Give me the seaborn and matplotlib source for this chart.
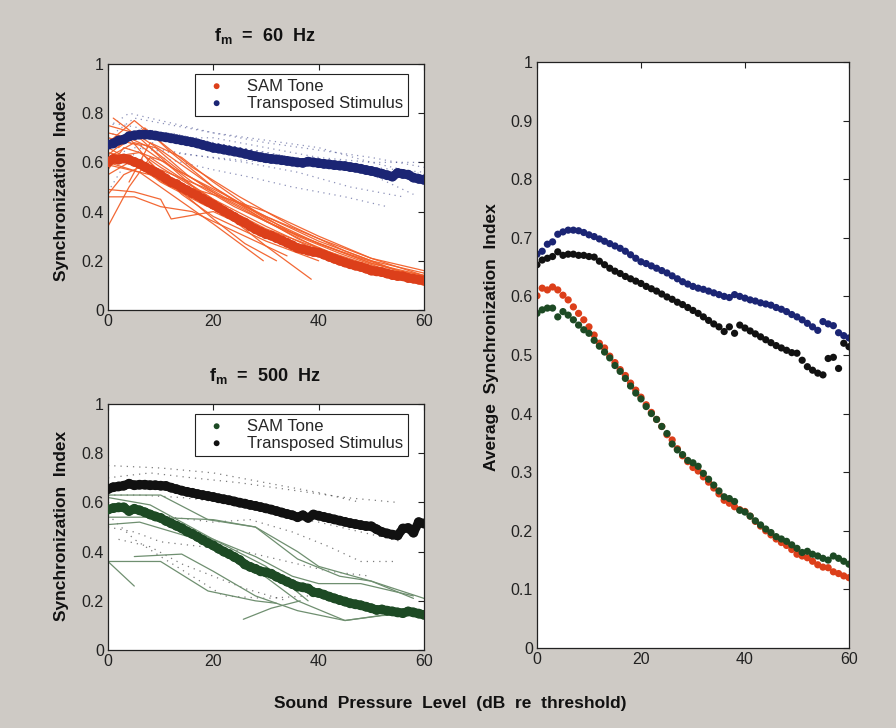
import numpy as np
import pandas as pd
import matplotlib
matplotlib.use("Agg")
import matplotlib.pyplot as plt
import seaborn as sns

# ---------------- data ----------------
spl = list(range(0, 61))

sam60_mean = [0.601, 0.614, 0.611, 0.616, 0.611, 0.602, 0.594, 0.582, 0.571, 0.560,
              0.548, 0.534, 0.520, 0.512, 0.498, 0.487, 0.475, 0.465, 0.452, 0.440,
              0.428, 0.415, 0.402, 0.390, 0.378, 0.364, 0.355, 0.340, 0.328, 0.318,
              0.308, 0.302, 0.292, 0.283, 0.273, 0.263, 0.252, 0.247, 0.241, 0.236,
              0.233, 0.225, 0.216, 0.208, 0.200, 0.193, 0.186, 0.180, 0.175, 0.168,
              0.160, 0.157, 0.154, 0.148, 0.142, 0.138, 0.137, 0.130, 0.127, 0.123,
              0.120]
trans60_mean = [0.672, 0.677, 0.689, 0.693, 0.706, 0.710, 0.713, 0.713, 0.712, 0.709,
                0.705, 0.702, 0.698, 0.694, 0.690, 0.686, 0.682, 0.677, 0.671, 0.665,
                0.659, 0.656, 0.652, 0.648, 0.644, 0.640, 0.635, 0.630, 0.625, 0.621,
                0.617, 0.614, 0.612, 0.609, 0.606, 0.603, 0.600, 0.598, 0.603, 0.600,
                0.597, 0.594, 0.592, 0.589, 0.587, 0.585, 0.581, 0.578, 0.574, 0.569,
                0.565, 0.560, 0.554, 0.548, 0.542, 0.557, 0.553, 0.550, 0.538, 0.533,
                0.529]
sam500_mean = [0.571, 0.577, 0.580, 0.580, 0.565, 0.574, 0.568, 0.560, 0.551, 0.543,
               0.537, 0.525, 0.515, 0.505, 0.495, 0.482, 0.472, 0.460, 0.447, 0.435,
               0.425, 0.412, 0.400, 0.390, 0.378, 0.366, 0.348, 0.338, 0.330, 0.320,
               0.316, 0.310, 0.298, 0.288, 0.278, 0.268, 0.258, 0.255, 0.250, 0.235,
               0.232, 0.225, 0.217, 0.210, 0.203, 0.197, 0.190, 0.186, 0.182, 0.176,
               0.170, 0.163, 0.165, 0.160, 0.157, 0.153, 0.150, 0.157, 0.153, 0.148,
               0.143]
trans500_mean = [0.654, 0.662, 0.665, 0.668, 0.676, 0.670, 0.672, 0.672, 0.670, 0.670,
                 0.668, 0.667, 0.660, 0.654, 0.648, 0.643, 0.639, 0.634, 0.630, 0.626,
                 0.622, 0.617, 0.613, 0.609, 0.604, 0.599, 0.595, 0.590, 0.586, 0.581,
                 0.576, 0.571, 0.565, 0.559, 0.553, 0.548, 0.540, 0.548, 0.537, 0.551,
                 0.546, 0.541, 0.536, 0.531, 0.526, 0.521, 0.516, 0.512, 0.508, 0.504,
                 0.503, 0.491, 0.480, 0.474, 0.469, 0.466, 0.494, 0.496, 0.477, 0.520,
                 0.514]

# individual fibres, fm = 60 Hz, SAM tone (x, y)
sam60_units = [
    ([0, 4, 8, 15, 25, 35, 45, 60], [0.34, 0.50, 0.62, 0.52, 0.38, 0.27, 0.19, 0.11]),
    ([0, 5, 10, 20, 30, 40, 50, 60], [0.75, 0.72, 0.65, 0.50, 0.37, 0.27, 0.19, 0.13]),
    ([1, 6, 12, 20, 30, 38.6], [0.78, 0.70, 0.58, 0.43, 0.26, 0.125]),
    ([0, 6, 12, 20, 29.5], [0.60, 0.56, 0.47, 0.35, 0.20]),
    ([0, 5, 10, 12, 20, 30, 40, 50, 60], [0.49, 0.48, 0.45, 0.37, 0.40, 0.30, 0.22, 0.16, 0.11]),
    ([0, 4, 8, 14, 22, 30, 40, 50, 60], [0.72, 0.70, 0.66, 0.56, 0.46, 0.38, 0.28, 0.20, 0.15]),
    ([0, 3, 6, 10, 20, 30, 40, 50, 60], [0.57, 0.66, 0.64, 0.58, 0.45, 0.34, 0.24, 0.17, 0.12]),
    ([0, 3, 8, 14, 20, 30, 40], [0.47, 0.55, 0.60, 0.47, 0.38, 0.28, 0.20]),
    ([0, 5, 9, 16, 25, 35, 45, 60], [0.68, 0.77, 0.70, 0.58, 0.46, 0.34, 0.24, 0.12]),
    ([0, 6, 11, 16, 24, 34, 44, 55, 60], [0.62, 0.64, 0.60, 0.52, 0.42, 0.32, 0.24, 0.16, 0.14]),
    ([2, 7, 12, 20, 30, 40, 50, 60], [0.66, 0.74, 0.64, 0.50, 0.36, 0.25, 0.18, 0.12]),
    ([0, 4, 10, 18, 27, 36, 45, 55, 60], [0.64, 0.62, 0.57, 0.50, 0.40, 0.29, 0.21, 0.14, 0.12]),
    ([0, 5, 10, 18, 28, 38, 48, 58, 60], [0.66, 0.60, 0.52, 0.43, 0.33, 0.25, 0.18, 0.13, 0.12]),
    ([0, 8, 15, 23, 30, 40, 50, 60], [0.59, 0.55, 0.50, 0.45, 0.40, 0.30, 0.21, 0.14]),
    ([4, 8, 14, 20, 28, 36, 44, 52, 60], [0.52, 0.68, 0.62, 0.52, 0.40, 0.30, 0.23, 0.17, 0.13]),
    ([0, 4, 8, 14, 20, 26, 32], [0.63, 0.70, 0.60, 0.48, 0.37, 0.27, 0.20]),
    ([0, 6, 12, 22, 30, 40, 50, 60], [0.70, 0.67, 0.58, 0.47, 0.38, 0.29, 0.21, 0.16]),
    ([0, 4, 8, 12, 20, 30, 40, 50, 60], [0.55, 0.60, 0.55, 0.50, 0.44, 0.33, 0.25, 0.17, 0.10]),
    ([0, 5, 10, 16, 24, 34], [0.46, 0.46, 0.42, 0.40, 0.32, 0.22]),
    ([0, 5, 9, 15, 22, 30, 40, 50, 60], [0.62, 0.68, 0.66, 0.55, 0.45, 0.36, 0.27, 0.19, 0.14]),
]
# individual fibres, fm = 60 Hz, transposed stimulus
trans60_units = [
    ([0, 5, 10, 20, 30, 40, 50, 60], [0.70, 0.78, 0.76, 0.72, 0.68, 0.65, 0.62, 0.58]),
    ([0, 4, 10, 20, 30, 40, 50, 60], [0.74, 0.80, 0.77, 0.72, 0.69, 0.66, 0.60, 0.55]),
    ([0, 6, 12, 20, 30, 40, 50, 58], [0.66, 0.70, 0.72, 0.68, 0.64, 0.60, 0.55, 0.47]),
    ([0, 5, 12, 20, 30, 40, 50, 60], [0.62, 0.66, 0.64, 0.62, 0.60, 0.60, 0.58, 0.56]),
    ([0, 4, 10, 20, 30, 40, 50, 60], [0.48, 0.62, 0.70, 0.70, 0.66, 0.62, 0.60, 0.60]),
    ([1, 6, 15, 25, 35, 45, 55, 60], [0.76, 0.74, 0.70, 0.66, 0.62, 0.58, 0.54, 0.53]),
    ([0, 8, 16, 26, 36, 46, 56], [0.70, 0.66, 0.63, 0.60, 0.56, 0.50, 0.46]),
    ([0, 10, 20, 27, 35, 45, 53], [0.60, 0.62, 0.57, 0.54, 0.50, 0.46, 0.42]),
]
# individual fibres, fm = 500 Hz, SAM tone
sam500_units = [
    ([0, 10, 19, 28, 36, 40, 50, 60], [0.63, 0.63, 0.53, 0.50, 0.40, 0.34, 0.28, 0.21]),
    ([0, 8, 14, 20, 28, 35, 40, 48, 58], [0.62, 0.59, 0.52, 0.45, 0.38, 0.30, 0.27, 0.27, 0.22]),
    ([0, 8, 20, 28, 36, 44, 50, 58], [0.54, 0.54, 0.53, 0.50, 0.37, 0.30, 0.28, 0.21]),
    ([0, 6, 17, 26, 36, 45, 52, 60], [0.51, 0.52, 0.45, 0.36, 0.20, 0.12, 0.14, 0.15]),
    ([5, 14, 20, 28, 36, 45, 55, 60], [0.38, 0.39, 0.32, 0.22, 0.16, 0.12, 0.15, 0.15]),
    ([0, 10, 19, 28, 32], [0.36, 0.36, 0.24, 0.20, 0.19]),
    ([0, 5], [0.36, 0.26]),
    ([25.7, 31, 36.5], [0.125, 0.17, 0.20]),
    ([0, 6, 12, 20, 30, 38], [0.58, 0.58, 0.52, 0.45, 0.34, 0.20]),
]
# individual fibres, fm = 500 Hz, transposed stimulus
trans500_units = [
    ([0, 10, 20, 30, 40, 48], [0.75, 0.74, 0.72, 0.68, 0.64, 0.60]),
    ([0, 8, 16, 25, 35, 45, 55], [0.70, 0.72, 0.70, 0.68, 0.65, 0.62, 0.60]),
    ([0, 6, 14, 22, 30, 40, 50, 56], [0.63, 0.63, 0.62, 0.60, 0.56, 0.52, 0.47, 0.44]),
    ([0, 5, 12, 20, 27, 35, 42, 48, 55], [0.60, 0.58, 0.54, 0.52, 0.53, 0.48, 0.42, 0.36, 0.36]),
    ([0, 5, 10, 18, 26, 34, 42, 50], [0.50, 0.48, 0.44, 0.42, 0.40, 0.36, 0.32, 0.30]),
    ([0, 5, 10, 16, 22, 30, 38], [0.55, 0.45, 0.38, 0.30, 0.22, 0.21, 0.22]),
    ([2, 8, 14, 20, 26, 34], [0.45, 0.42, 0.35, 0.30, 0.25, 0.20]),
]

legend_labels = ["SAM Tone", "Transposed Stimulus"]
xticks = [0, 20, 40, 60]

# ---------------- style ----------------
BG = "#cecac5"
RED_DOT = "#dc3f1a"
RED_LINE = "#f2602a"
BLUE = "#1b2574"
GREEN_DOT = "#1d4a24"
GREEN_LINE = "#6f8f70"
BLACK = "#111111"

sns.set_theme(style="white")
plt.rcParams["font.family"] = ["Liberation Sans", "DejaVu Sans"]
plt.rcParams["mathtext.fontset"] = "custom"
plt.rcParams["mathtext.rm"] = "Liberation Sans"
plt.rcParams["mathtext.bf"] = "Liberation Sans:bold"
plt.rcParams["axes.edgecolor"] = "#222222"
plt.rcParams["axes.linewidth"] = 0.9


def units_frame(units):
    rows = []
    for i, (xs, ys) in enumerate(units):
        for x, y in zip(xs, ys):
            rows.append({"unit": i, "x": x, "y": y})
    return pd.DataFrame(rows)


def style_axes(ax, yticks, ylabels):
    ax.set_facecolor("white")
    ax.set_xlim(0, 60)
    ax.set_ylim(0, 1)
    ax.set_xticks(xticks)
    ax.set_xticklabels([str(t) for t in xticks])
    ax.set_yticks(yticks)
    ax.set_yticklabels(ylabels)
    ax.tick_params(direction="in", top=True, right=True, length=4, width=0.8,
                   labelsize=11.5, colors="#222222", pad=3)
    ax.set_xlabel("")
    ax.set_ylabel("")
    for s in ax.spines.values():
        s.set_visible(True)


def mean_band(ax, y, color):
    # thick overlapping dots in the single-condition panels
    sns.lineplot(x=spl, y=y, ax=ax, color=color, lw=6.5, legend=False,
                 solid_capstyle="round", zorder=4)


fig = plt.figure(figsize=(8.96, 7.28), dpi=100)
fig.patch.set_facecolor(BG)

ax1 = fig.add_axes([0.1205, 0.5742, 0.3527, 0.3379])
ax2 = fig.add_axes([0.1205, 0.1071, 0.3527, 0.3379])
ax3 = fig.add_axes([0.5993, 0.1099, 0.3482, 0.8050])

left_ticks = [0, 0.2, 0.4, 0.6, 0.8, 1]
left_labels = ["0", "0.2", "0.4", "0.6", "0.8", "1"]
right_ticks = [0, 0.1, 0.2, 0.3, 0.4, 0.5, 0.6, 0.7, 0.8, 0.9, 1]
right_labels = ["0", "0.1", "0.2", "0.3", "0.4", "0.5", "0.6", "0.7", "0.8", "0.9", "1"]

# ---- top-left: fm = 60 Hz ----
df = units_frame(trans60_units)
sns.lineplot(data=df, x="x", y="y", units="unit", estimator=None, ax=ax1,
             color=BLUE, lw=0.9, ls=(0, (1, 3.5)), alpha=0.5, legend=False, sort=False)
df = units_frame(sam60_units)
sns.lineplot(data=df, x="x", y="y", units="unit", estimator=None, ax=ax1,
             color=RED_LINE, lw=0.9, alpha=0.95, legend=False, sort=False)
mean_band(ax1, sam60_mean, RED_DOT)
mean_band(ax1, trans60_mean, BLUE)
sns.scatterplot(x=spl, y=sam60_mean, ax=ax1, color=RED_DOT, s=50, edgecolor="none",
                label=legend_labels[0], zorder=5)
sns.scatterplot(x=spl, y=trans60_mean, ax=ax1, color=BLUE, s=50, edgecolor="none",
                label=legend_labels[1], zorder=5)
style_axes(ax1, left_ticks, left_labels)

# ---- bottom-left: fm = 500 Hz ----
df = units_frame(trans500_units)
sns.lineplot(data=df, x="x", y="y", units="unit", estimator=None, ax=ax2,
             color=BLACK, lw=0.9, ls=(0, (1, 4)), alpha=0.55, legend=False, sort=False)
df = units_frame(sam500_units)
sns.lineplot(data=df, x="x", y="y", units="unit", estimator=None, ax=ax2,
             color=GREEN_LINE, lw=0.9, legend=False, sort=False)
mean_band(ax2, sam500_mean, GREEN_DOT)
mean_band(ax2, trans500_mean, BLACK)
sns.scatterplot(x=spl, y=sam500_mean, ax=ax2, color=GREEN_DOT, s=50, edgecolor="none",
                label=legend_labels[0], zorder=5)
sns.scatterplot(x=spl, y=trans500_mean, ax=ax2, color=BLACK, s=50, edgecolor="none",
                label=legend_labels[1], zorder=5)
style_axes(ax2, left_ticks, left_labels)

for ax in (ax1, ax2):
    leg = ax.legend(loc="upper right", bbox_to_anchor=(0.975, 0.995), frameon=True,
                    fancybox=False, edgecolor="#222222", fontsize=12,
                    handletextpad=0.8, borderpad=0.3, labelspacing=0.12,
                    markerscale=0.6, handlelength=2.0, framealpha=1)
    leg.get_frame().set_linewidth(0.8)

# ---- right: averages ----
sns.scatterplot(x=spl, y=trans60_mean, ax=ax3, color=BLUE, s=27, edgecolor="none", legend=False)
sns.scatterplot(x=spl, y=trans500_mean, ax=ax3, color=BLACK, s=27, edgecolor="none", legend=False)
sns.scatterplot(x=spl, y=sam60_mean, ax=ax3, color=RED_DOT, s=27, edgecolor="none", legend=False)
sns.scatterplot(x=spl, y=sam500_mean, ax=ax3, color=GREEN_DOT, s=27, edgecolor="none", legend=False)
style_axes(ax3, right_ticks, right_labels)

# ---- texts ----
fig.text(0.296, 0.951, r"$\mathbf{f_m}$  =  60  Hz", ha="center", va="center",
         fontsize=13, fontweight="bold", color="#111111")
fig.text(0.296, 0.484, r"$\mathbf{f_m}$  =  500  Hz", ha="center", va="center",
         fontsize=13, fontweight="bold", color="#111111")
fig.text(0.069, 0.745, "Synchronization  Index", rotation=90, ha="center", va="center",
         fontsize=12.5, fontweight="bold", color="#111111")
fig.text(0.069, 0.278, "Synchronization  Index", rotation=90, ha="center", va="center",
         fontsize=12.5, fontweight="bold", color="#111111")
fig.text(0.549, 0.537, "Average  Synchronization  Index", rotation=90, ha="center",
         va="center", fontsize=12.5, fontweight="bold", color="#111111")
fig.text(0.503, 0.034, "Sound  Pressure  Level  (dB  re  threshold)", ha="center",
         va="center", fontsize=12.5, fontweight="bold", color="#111111")

fig.savefig("out.png", dpi=100, facecolor=BG)
